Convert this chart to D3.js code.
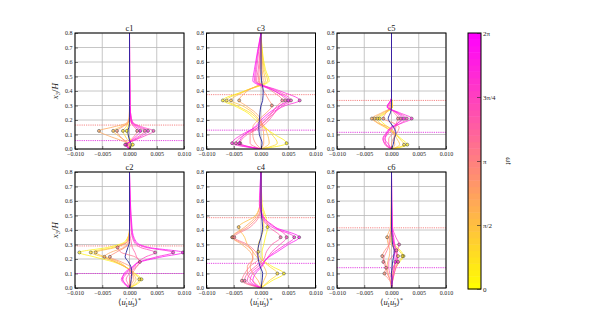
<!DOCTYPE html>
<html>
<head>
<meta charset="utf-8">
<script src="https://cdn.jsdelivr.net/npm/d3@7"></script>
<style>
body{margin:0;background:#fff;}
svg text{font-family:"Liberation Serif","DejaVu Serif",serif;fill:#222;}
</style>
</head>
<body>
<svg id="fig" width="598" height="326"></svg>
<script>
// phase of each profile, in units of pi
var phases = [0.1,0.3,0.5,0.7,0.9,1.1,1.3,1.5,1.7,1.9];
var xTicks = [-10,-5,0,5,10];          // <u1'u3'>* in 1e-3
var yTicks = [0,0.1,0.2,0.3,0.4,0.5,0.6,0.7,0.8];
var cbTicks = [0,0.5,1,1.5,2];         // omega t / pi
var cbLabels = ['0','π/2','π','3π/4','2π'];

// c1
var z_c1 = [0,0.03,0.06,0.09,0.125,0.15,0.18,0.22,0.3,0.8];
var u_c1 = [
  [0,0.6,0.3,-0.2,-0.5,-0.3,0,0.1,0,0],
  [0,0.4,-0.3,-0.8,-1.2,-0.7,-0.2,0,0,0],
  [0,0.2,-0.9,-2.0,-3.0,-1.8,-0.3,0,0,0],
  [0,0,-1.6,-3.8,-5.6,-3.2,-0.5,-0.1,0,0],
  [0,-0.2,-1.0,-1.8,-2.3,-1.4,-0.3,0,0,0],
  [0,-0.3,0.2,0.9,1.4,0.9,0.3,0.1,0,0],
  [0,-0.5,0.6,1.8,2.8,1.6,0.5,0.2,0.1,0],
  [0,-0.6,0.9,2.8,4.4,2.5,0.7,0.3,0.1,0],
  [0,-0.8,0.8,2.2,3.4,2.0,0.6,0.3,0.1,0],
  [0,-0.5,0.4,1.3,2.0,1.2,0.4,0.2,0.1,0]];
var mean_c1 = [0,0.3,0,-0.2,-0.3,-0.1,0,0,0,0];
var lines_c1 = [0.165,0.058];

// c3
var z_c3 = [0,0.04,0.1,0.15,0.2,0.25,0.3,0.335,0.4,0.47,0.55,0.8];
var u_c3 = [
  [0,4.7,2.5,0.5,-1.0,-2.5,-5.0,-7.0,-3.0,1.5,0.8,0],
  [0,3.0,2.0,0.8,-0.5,-2.0,-4.5,-6.3,-3.0,1.2,0.6,0],
  [0,1.5,1.2,0.6,-0.3,-1.5,-3.5,-5.5,-2.8,0.8,0.4,0],
  [0,0.5,0.5,0.3,0,-1.0,-2.8,-4.0,-2.5,0.4,0.2,0],
  [0,-1.0,-1.5,-1.5,-0.5,1.0,2.0,1.5,0.5,-0.3,0,0],
  [0,-2.0,-2.0,-0.5,1.0,2.0,3.0,3.9,2.0,-0.5,-0.3,0],
  [0,-3.8,-2.5,0,1.5,2.5,3.5,4.5,2.5,-0.8,-0.5,0],
  [0,-4.6,-3.0,-0.5,1.0,2.5,4.0,5.5,3.0,-1.0,-0.8,0],
  [0,-5.3,-3.5,-1.0,0.5,2.0,4.5,7.1,3.5,-1.2,-1.0,0],
  [0,-4.0,-3.0,-1.2,0,1.5,3.5,5.0,2.5,-1.5,-1.2,0]];
var mean_c3 = [0,0.2,-0.3,-0.4,-0.3,-0.2,0,0.3,0.4,0.1,0,0];
var lines_c3 = [0.375,0.13];

// c5
var z_c5 = [0,0.03,0.07,0.11,0.15,0.18,0.21,0.25,0.29,0.35,0.8];
var u_c5 = [
  [0,2.9,1.8,0.6,-0.6,-1.6,-2.2,-1.0,0.2,0,0],
  [0,2.3,1.5,0.5,-1.0,-2.2,-2.6,-1.2,0.2,0,0],
  [0,1.5,1.0,0.3,-1.2,-2.6,-3.1,-1.5,0.1,0,0],
  [0,0.6,0.5,0.5,-0.5,-2.5,-3.6,-1.8,0,0,0],
  [0,0,0.3,1.0,1.4,0.3,-1.5,-1.0,-0.2,0,0],
  [0,-0.5,-0.5,0.3,0.8,0.9,1.2,0.5,-0.3,0,0],
  [0,-1.0,-1.2,-0.5,0.5,1.2,1.7,0.8,-0.5,0,0],
  [0,-1.2,-1.5,-0.8,0.3,1.8,2.8,1.2,-0.7,0,0],
  [0,-1.0,-1.6,-1.0,0,2.0,3.7,1.5,-0.8,0,0],
  [0,-0.5,-1.2,-0.8,0,1.2,2.2,1.0,-0.8,0,0]];
var mean_c5 = [0,0.3,0.5,0.8,0.4,-0.2,-0.6,-0.2,0,0,0];
var lines_c5 = [0.335,0.115];

// c2
var z_c2 = [0,0.03,0.06,0.1,0.14,0.18,0.215,0.245,0.28,0.32,0.4,0.8];
var u_c2 = [
  [0,1.5,2.2,1.0,-0.5,-3.0,-6.5,-9.2,-4.0,-0.8,0,0],
  [0,1.2,1.8,0.8,-0.5,-2.5,-5.0,-7.1,-3.0,-0.6,0,0],
  [0,0.8,1.2,0.6,-0.5,-2.0,-4.5,-6.2,-2.5,-0.4,0,0],
  [0,0.4,0.8,0.5,-0.6,-2.6,-4.6,-3.5,-1.0,-0.2,0,0],
  [0,0.2,0.4,0.5,0.3,-1.5,-3.6,-2.5,-0.8,0,0,0],
  [0,0,0,0.5,1.2,1.9,1.0,-1.5,-2.2,-0.3,0,0],
  [0,-0.3,-0.6,0,1.0,1.9,1.3,1.0,0.5,0.3,0,0],
  [0,-0.8,-1.2,-0.5,0.8,1.5,3.0,4.7,2.0,0.8,0.3,0],
  [0,-1.0,-1.5,-0.8,0.5,1.8,5.0,8.0,3.0,1.0,0.4,0],
  [0,-0.8,-1.3,-1.0,0.3,2.0,6.0,9.8,3.5,1.2,0.5,0]];
var mean_c2 = [0,0.2,0.3,0.4,0.3,-0.2,-0.8,-0.6,-0.3,0,0,0];
var lines_c2 = [0.29,0.10];

// c4
var z_c4 = [0,0.05,0.1,0.15,0.2,0.25,0.3,0.35,0.42,0.5,0.58,0.8];
var u_c4 = [
  [0,2.0,4.2,2.0,0.3,0.2,0.5,0.8,1.2,0.8,0.2,0],
  [0,1.5,3.0,1.5,0,-0.5,-0.5,0,0.5,0.5,0,0],
  [0,0.5,1.0,0.5,-0.5,-1.5,-2.5,-3.0,-4.1,-1.0,-0.2,0],
  [0,-0.5,-1.5,-2.0,-1.5,-2.0,-3.5,-5.3,-3.0,-0.8,-0.2,0],
  [0,-1.5,-2.5,-2.5,-1.5,-1.5,-3.0,-5.2,-2.5,-0.5,0,0],
  [0,-3.5,-3.0,-2.0,-0.5,-1.0,-2.5,-4.9,-2.0,-0.3,0,0],
  [0,-3.0,-2.5,-1.0,0.5,1.0,2.0,3.6,1.5,0,0,0],
  [0,-2.5,-2.0,-0.5,1.0,2.0,3.5,4.7,2.6,0.2,0,0],
  [0,-2.0,-1.5,0,1.0,2.5,4.5,6.1,2.0,0.2,0,0],
  [0,-1.5,-1.0,0.2,1.0,3.0,5.0,7.0,2.5,0.3,-0.3,0]];
var mean_c4 = [0,0.2,0.3,-0.2,-0.5,-0.6,-0.4,0,0.3,0.1,0,0];
var lines_c4 = [0.485,0.17];

// c6
var z_c6 = [0,0.05,0.1,0.14,0.18,0.22,0.26,0.3,0.35,0.42,0.8];
var u_c6 = [
  [0,0.2,0.5,0.8,1.5,2.2,1.6,0.5,0.1,0,0],
  [0,0.2,0.4,0.6,1.2,2.0,1.3,0.3,0,0,0],
  [0,0.1,0.2,0.3,0.8,1.2,0.6,0,-0.3,0,0],
  [0,-0.2,-0.6,-0.8,-0.7,-0.4,-0.3,-0.6,-0.8,-0.2,0],
  [0,-0.3,-1.3,-1.0,-1.2,-1.7,-1.2,-0.5,-0.4,0,0],
  [0,-0.2,-0.8,-1.0,-1.5,-1.3,-0.8,-0.4,-0.2,0,0],
  [0,0,-0.3,-0.5,-0.5,0.2,0.9,0.5,0.2,0,0],
  [0,0.1,0,0.3,0.8,1.0,1.1,1.4,0.8,0.2,0],
  [0,0.2,0.5,0.8,1.2,1.0,0.7,0.6,0.4,0.1,0],
  [0,0.1,0.3,0.5,0.7,0.6,0.5,0.4,0.3,0.1,0]];
var mean_c6 = [0,0.1,0,0.1,0.2,0.4,0.5,0.2,0.1,0,0];
var lines_c6 = [0.415,0.14];

var panels = [
  {name:'c1', z:z_c1, u:u_c1, mean:mean_c1, lines:lines_c1, col:0, row:0},
  {name:'c3', z:z_c3, u:u_c3, mean:mean_c3, lines:lines_c3, col:1, row:0},
  {name:'c5', z:z_c5, u:u_c5, mean:mean_c5, lines:lines_c5, col:2, row:0},
  {name:'c2', z:z_c2, u:u_c2, mean:mean_c2, lines:lines_c2, col:0, row:1},
  {name:'c4', z:z_c4, u:u_c4, mean:mean_c4, lines:lines_c4, col:1, row:1},
  {name:'c6', z:z_c6, u:u_c6, mean:mean_c6, lines:lines_c6, col:2, row:1}
];

var panelX = [75, 206.5, 337], panelY = [33, 172];
var w = 109, h = 116;

var svg = d3.select('#fig');
var x = d3.scaleLinear().domain([-10,10]).range([0,w]);
var y = d3.scaleLinear().domain([0,0.8]).range([h,0]);
var color = d3.scaleLinear().domain([0,2]).range(['#ffff00','#ff00ff']);
var line = d3.line().x(d => x(d[0])).y(d => y(d[1])).curve(d3.curveMonotoneY);

svg.append('defs').append('clipPath').attr('id','clip')
    .append('rect').attr('width',w).attr('height',h);

panels.forEach(drawPanel);
drawColorbar();

function drawPanel(p){
    var g = svg.append('g')
        .attr('transform','translate(' + panelX[p.col] + ',' + panelY[p.row] + ')');

    // grid
    g.selectAll('.gx').data(xTicks).join('line')
        .attr('x1',d => x(d)).attr('x2',d => x(d))
        .attr('y1',0).attr('y2',h)
        .attr('stroke','#b8b8b8').attr('stroke-width',0.8);
    g.selectAll('.gy').data(yTicks).join('line')
        .attr('y1',d => y(d)).attr('y2',d => y(d))
        .attr('x1',0).attr('x2',w)
        .attr('stroke','#b8b8b8').attr('stroke-width',0.8);

    var plot = g.append('g').attr('clip-path','url(#clip)');

    // reference heights
    plot.selectAll('.ref').data(p.lines).join('line')
        .attr('x1',0).attr('x2',w)
        .attr('y1',d => y(d)).attr('y2',d => y(d))
        .attr('stroke',(d,i) => i == 0 ? '#f47a7a' : '#e030e0')
        .attr('stroke-width',0.9)
        .attr('stroke-dasharray','1.2,1');

    var curves = p.u.map((row,i) => ({phase:phases[i], pts:d3.zip(row,p.z)}));

    plot.selectAll('.prof').data(curves).join('path')
        .attr('d',d => line(d.pts))
        .attr('fill','none')
        .attr('stroke',d => color(d.phase))
        .attr('stroke-width',0.75);

    plot.append('path')
        .attr('d',line(d3.zip(p.mean,p.z)))
        .attr('fill','none')
        .attr('stroke','#23239a')
        .attr('stroke-width',0.9);

    // peak markers: main peak above the lower reference height,
    // and the strongest near-wall peaks below it
    var marks = [];
    var lows = curves.map(c => d3.greatest(c.pts.filter(q => q[1] <= p.lines[1]), q => Math.abs(q[0])));
    var lowMax = d3.max(lows, q => Math.abs(q[0]));
    curves.forEach((c,i) => {
        var up = d3.greatest(c.pts.filter(q => q[1] > p.lines[1]), q => Math.abs(q[0]));
        if(up && Math.abs(up[0]) >= 0.5) marks.push({phase:c.phase, q:up});
        if(lows[i] && Math.abs(lows[i][0]) >= 0.7*lowMax && Math.abs(lows[i][0]) >= 0.5)
            marks.push({phase:c.phase, q:lows[i]});
    });
    plot.selectAll('.mk').data(marks).join('circle')
        .attr('cx',d => x(d.q[0])).attr('cy',d => y(d.q[1]))
        .attr('r',1.5)
        .attr('fill',d => color(d.phase))
        .attr('fill-opacity',0.6)
        .attr('stroke','#333').attr('stroke-width',0.5);

    // axes
    var ax = g.append('g').attr('transform','translate(0,' + h + ')')
        .call(d3.axisBottom(x).tickValues(xTicks).tickSize(-3).tickPadding(3)
            .tickFormat(d => d3.format('.3f')(d/1000)));
    var ay = g.append('g')
        .call(d3.axisLeft(y).tickValues(yTicks).tickSize(-3).tickPadding(2.5)
            .tickFormat(d3.format('.1f')));
    [ax,ay].forEach(a => {
        a.select('.domain').remove();
        a.selectAll('line').attr('stroke','#222').attr('stroke-width',0.6);
        a.selectAll('text').attr('font-size',6).attr('font-family','"Liberation Serif",serif').attr('fill','#333');
    });

    g.append('rect').attr('width',w).attr('height',h)
        .attr('fill','none').attr('stroke','#000').attr('stroke-width',1);

    g.append('text').attr('x',w/2).attr('y',-2.5)
        .attr('text-anchor','middle').attr('font-size',8.5)
        .text(p.name);

    if(p.col == 0){
        var t = g.append('text')
            .attr('transform','translate(-17,' + (h/2) + ') rotate(-90)')
            .attr('text-anchor','middle').attr('font-size',9);
        t.append('tspan').attr('font-style','italic').text('x');
        t.append('tspan').attr('font-size',6.5).attr('dy',2).text('3');
        t.append('tspan').attr('dy',-2).text('/');
        t.append('tspan').attr('font-style','italic').text('H');
    }
    if(p.row == 1){
        var t2 = g.append('text')
            .attr('x',w/2).attr('y',h + 17)
            .attr('text-anchor','middle').attr('font-size',8.5);
        t2.append('tspan').text('⟨');
        t2.append('tspan').attr('font-style','italic').text('u');
        t2.append('tspan').attr('font-size',6).attr('dy',-3).text('′');
        t2.append('tspan').attr('font-size',6).attr('dx',-2).attr('dy',5).text('1');
        t2.append('tspan').attr('font-style','italic').attr('dy',-2).text('u');
        t2.append('tspan').attr('font-size',6).attr('dy',-3).text('′');
        t2.append('tspan').attr('font-size',6).attr('dx',-2).attr('dy',5).text('3');
        t2.append('tspan').attr('dy',-2).text('⟩');
        t2.append('tspan').attr('font-size',6).attr('dy',-3).text('*');
    }
}

function drawColorbar(){
    var cx = 468, cw = 13, cy = 33, ch = 256;
    var cs = d3.scaleLinear().domain([0,2]).range([ch,0]);
    var g = svg.append('g').attr('transform','translate(' + cx + ',' + cy + ')');
    var n = 40;
    g.selectAll('.band').data(d3.range(n)).join('rect')
        .attr('x',0).attr('width',cw)
        .attr('y',i => cs((i+1)*2/n)).attr('height',ch/n + 0.5)
        .attr('fill',i => color((i+0.5)*2/n));
    g.append('rect').attr('width',cw).attr('height',ch)
        .attr('fill','none').attr('stroke','#000').attr('stroke-width',1);
    var a = g.append('g').attr('transform','translate(' + cw + ',0)')
        .call(d3.axisRight(cs).tickValues(cbTicks).tickSize(-4).tickPadding(2)
            .tickFormat((d,i) => cbLabels[i]));
    a.select('.domain').remove();
    a.selectAll('line').attr('stroke','#222').attr('stroke-width',0.6);
    a.selectAll('text').attr('font-size',7).attr('font-family','"Liberation Serif",serif').attr('fill','#333');

    var lab = svg.append('text')
        .attr('transform','translate(506,' + (cy + ch/2) + ') rotate(90)')
        .attr('text-anchor','middle').attr('font-size',7.5);
    lab.append('tspan').attr('font-style','italic').text('ωt');
}
</script>
</body>
</html>
